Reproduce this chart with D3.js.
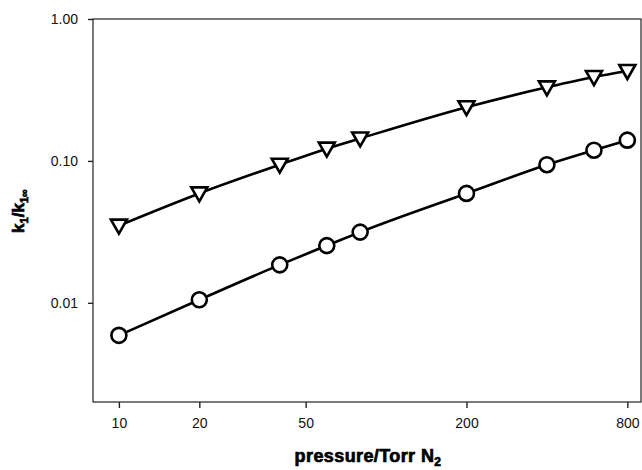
<!DOCTYPE html>
<meta charset="utf-8">
<style>
body { margin: 0; background: #fff; }
svg { font-family: "Liberation Sans", Arial, sans-serif; }
.tick text { font-size: 14px; fill: #111; }
.frame { fill: none; stroke: #222; stroke-width: 1.2; }
.fit { fill: none; stroke: #000; stroke-width: 2.6; }
.mark { fill: #fff; stroke: #000; stroke-width: 2.6; }
.axis-label { font-weight: bold; font-size: 18px; fill: #000; stroke: #000; stroke-width: 0.7; }
</style>
<svg width="642" height="470"></svg>
<script src="https://cdnjs.cloudflare.com/ajax/libs/d3/7.8.5/d3.min.js"></script>
<script>

// pressure (Torr N2)
var pressure = [10, 20, 40, 60, 80, 200, 400, 600, 800];
// k1/k1inf, upper curve (triangles) and lower curve (circles)
var upper = [0.035, 0.059, 0.094, 0.122, 0.144, 0.239, 0.33, 0.39, 0.43];
var lower = [0.0059, 0.0105, 0.0185, 0.0253, 0.0315, 0.059, 0.094, 0.119, 0.14];

var xTicks = [10, 20, 50, 200, 800];
var yTicks = [0.01, 0.1, 1];

var svg = d3.select("svg"),
    margin = {top: 19, right: 1, bottom: 68, left: 93},
    width = +svg.attr("width") - margin.left - margin.right,
    height = +svg.attr("height") - margin.top - margin.bottom;

var g = svg.append("g")
    .attr("transform", "translate(" + margin.left + "," + margin.top + ")");

var x = d3.scaleLog()
    .domain([8, 900])
    .range([0, width]);

var y = d3.scaleLog()
    .domain([0.002, 1])
    .range([height, 0]);

g.append("rect")
    .attr("class", "frame")
    .attr("width", width)
    .attr("height", height);

var xAxis = g.append("g")
    .attr("transform", "translate(0," + height + ")")
    .call(d3.axisBottom(x).tickValues(xTicks).tickFormat(d3.format("d")).tickSize(6).tickPadding(10));

var yAxis = g.append("g")
    .call(d3.axisLeft(y).tickValues(yTicks).tickFormat(d3.format(".2f")).tickSize(5).tickPadding(10));

[xAxis, yAxis].forEach(function(a) {
  a.select(".domain").remove();
  a.selectAll(".tick line").attr("stroke", "#222").attr("stroke-width", 1.4);
});

var line = d3.line()
    .x(function(d) { return x(d[0]); })
    .y(function(d) { return y(d[1]); })
    .curve(d3.curveMonotoneX);

var series = [
  {name: "upper", values: upper, shape: "triangle"},
  {name: "lower", values: lower, shape: "circle"}
];

series.forEach(function(s) {
  var pts = pressure.map(function(p, i) { return [p, s.values[i]]; });

  g.append("path")
      .datum(pts)
      .attr("class", "fit")
      .attr("d", line);

  if (s.shape == "circle") {
    g.selectAll(".c-" + s.name)
      .data(pts)
      .enter().append("circle")
        .attr("class", "mark")
        .attr("cx", function(d) { return x(d[0]); })
        .attr("cy", function(d) { return y(d[1]); })
        .attr("r", 7.5);
  } else {
    g.selectAll(".t-" + s.name)
      .data(pts)
      .enter().append("path")
        .attr("class", "mark")
        .attr("transform", function(d) { return "translate(" + x(d[0]) + "," + y(d[1]) + ")"; })
        .attr("d", "M-8,-6L8,-6L0,8Z");
  }
});

svg.append("text")
    .attr("class", "axis-label")
    .attr("x", 368)
    .attr("y", 462)
    .attr("text-anchor", "middle")
    .style("letter-spacing", "0.4px")
    .text("pressure/Torr N")
  .append("tspan")
    .attr("dy", 4)
    .style("font-size", "12px")
    .text("2");

var yl = svg.append("text")
    .attr("class", "axis-label")
    .attr("transform", "translate(24,211) rotate(-90)")
    .attr("text-anchor", "middle")
    .style("font-size", "17px");
yl.append("tspan").text("k");
yl.append("tspan").attr("dy", 4).style("font-size", "11px").text("1");
yl.append("tspan").attr("dy", -4).text("/k");
yl.append("tspan").attr("dy", 4).style("font-size", "11px").text("1\u221e");

</script>
